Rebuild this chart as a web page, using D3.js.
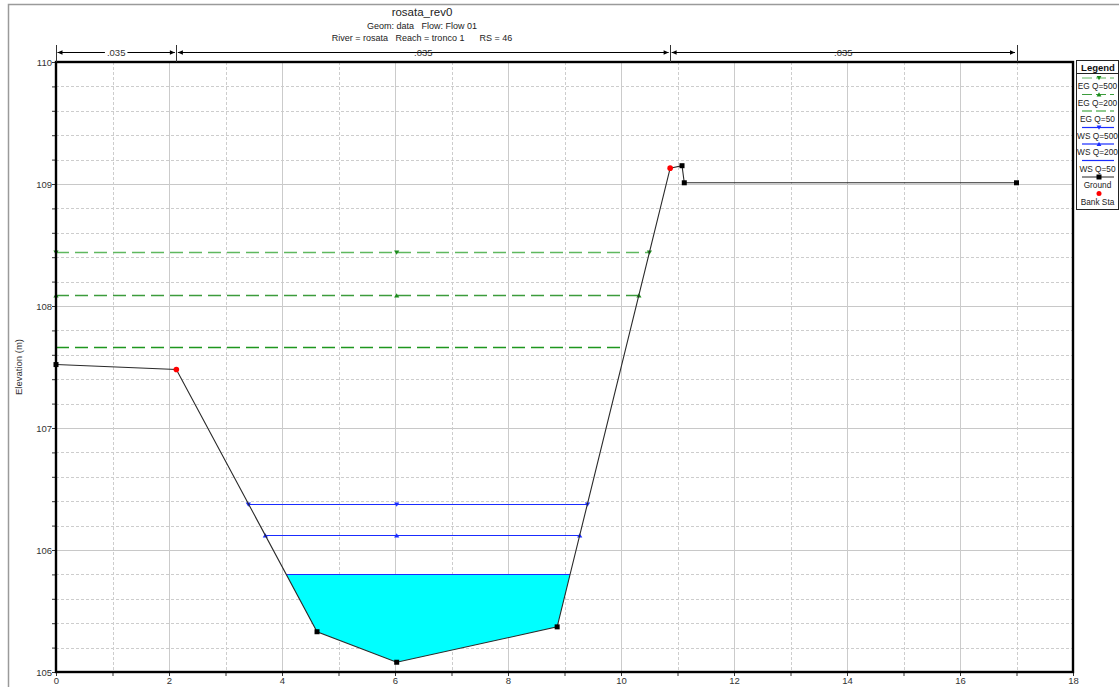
<!DOCTYPE html>
<html>
<head>
<meta charset="utf-8">
<script src="https://cdn.jsdelivr.net/npm/d3@7"></script>
<style>
  html, body { margin: 0; padding: 0; background: #fff; }
  svg text { font-family: Arial, "Liberation Sans", sans-serif; }
</style>
</head>
<body>
<svg id="chart" width="1119" height="687"></svg>
<script>
// Cross section geometry (station, elevation)
const groundSta  = [0, 2.13, 4.62, 6.03, 8.87, 10.87, 11.08, 11.12, 17.0];
const groundElev = [107.52, 107.48, 105.33, 105.08, 105.37, 109.13, 109.15, 109.01, 109.01];
const bankSta = [2.13, 10.87];

// Manning's n zones
const nBreaks = [0, 2.13, 10.87, 17.0];
const nValues = [".035", ".035", ".035"];

// Computed profiles
const profileNames = ["EG Q=500", "EG Q=200", "EG Q=50", "WS Q=500", "WS Q=200", "WS Q=50"];
const profileElev  = [108.44, 108.09, 107.66, 106.38, 106.12, 105.80];

const xTicks = [0, 2, 4, 6, 8, 10, 12, 14, 16, 18];
const yTicks = [105, 106, 107, 108, 109, 110];

const svg = d3.select("#chart");
const x = d3.scaleLinear().domain([0, 18]).range([56, 1073]);
const y = d3.scaleLinear().domain([105, 110]).range([672, 62]);

const styles = {
  "EG Q=500": {color: "#5fb85f", dash: "13,6", marker: "down", width: 1.6},
  "EG Q=200": {color: "#3c9c3c", dash: "13,6", marker: "up", width: 1.4},
  "EG Q=50":  {color: "#1e961e", dash: "13,6", marker: null, width: 1.4},
  "WS Q=500": {color: "#1a2cff", dash: null, marker: "down", width: 1.2},
  "WS Q=200": {color: "#1a2cff", dash: null, marker: "up", width: 1.2},
  "WS Q=50":  {color: "#1a2cff", dash: null, marker: null, width: 1.2}
};

// outer frame
svg.append("path").attr("d", "M8.5,687 V4.5 H1119").attr("fill", "none")
  .attr("stroke", "#9a9a9a").attr("stroke-width", 1.5);

// grid
const grid = svg.append("g");
d3.range(105.2, 110, 0.2).forEach(v => {
  const major = Math.abs(v - Math.round(v)) < 1e-6;
  grid.append("line").attr("x1", x(0)).attr("x2", x(18))
    .attr("y1", Math.round(y(v)) + 0.5).attr("y2", Math.round(y(v)) + 0.5)
    .attr("stroke", major ? "#c8c8c8" : "#cdcdcd")
    .attr("stroke-dasharray", major ? null : "3,2");
});
d3.range(1, 18, 1).forEach(v => {
  const major = v % 2 === 0;
  grid.append("line").attr("y1", y(110)).attr("y2", y(105))
    .attr("x1", Math.round(x(v)) + 0.5).attr("x2", Math.round(x(v)) + 0.5)
    .attr("stroke", major ? "#cbcbcb" : "#cdcdcd")
    .attr("stroke-dasharray", major ? null : "3,2");
});

// ground as point list
const ground = groundSta.map((s, i) => ({s, e: groundElev[i]}));
const thalweg = ground.reduce((a, b) => (b.e < a.e ? b : a));
const ti = ground.indexOf(thalweg);

// find where a water level meets the ground on each side of the thalweg
function extent(level) {
  let left = {s: ground[0].s}, right = {s: ground[ground.length - 1].s};
  for (let i = ti; i > 0; i--) {
    const a = ground[i], b = ground[i - 1];
    if (b.e >= level) { left = {s: a.s + (level - a.e) / (b.e - a.e) * (b.s - a.s), idx: i}; break; }
  }
  for (let i = ti; i < ground.length - 1; i++) {
    const a = ground[i], b = ground[i + 1];
    if (b.e >= level) { right = {s: a.s + (level - a.e) / (b.e - a.e) * (b.s - a.s), idx: i}; break; }
  }
  return {left, right};
}

// water fill for the lowest water surface
const wsLow = profileElev[5];
const ex = extent(wsLow);
const poly = [[ex.left.s, wsLow]];
for (let i = ex.left.idx; i <= ex.right.idx; i++) poly.push([ground[i].s, ground[i].e]);
poly.push([ex.right.s, wsLow]);
svg.append("path")
  .attr("d", d3.line().x(d => x(d[0])).y(d => y(d[1]))(poly) + "Z")
  .attr("fill", "#00ffff");

function markerPath(type, size) {
  const h = size;
  if (type === "down") return `M${-h},${-h * 0.8} L${h},${-h * 0.8} L0,${h * 0.9} Z`;
  return `M${-h},${h * 0.8} L${h},${h * 0.8} L0,${-h * 0.9} Z`;
}

// profile lines
profileNames.forEach((name, i) => {
  const lv = profileElev[i];
  const st = styles[name];
  const e = extent(lv);
  const yy = Math.round(y(lv)) + 0.5;
  svg.append("line").attr("x1", x(e.left.s)).attr("x2", x(e.right.s))
    .attr("y1", yy).attr("y2", yy)
    .attr("stroke", st.color).attr("stroke-width", st.width)
    .attr("stroke-dasharray", st.dash);
  if (st.marker) {
    [e.left.s, thalweg.s, e.right.s].forEach(s => {
      svg.append("path").attr("d", markerPath(st.marker, 2.6))
        .attr("transform", `translate(${x(s)},${yy})`)
        .attr("fill", st.dash ? "#1a8c1a" : "#1a2cff");
    });
  }
});

// ground line
svg.append("path")
  .attr("d", d3.line().x(d => x(d.s)).y(d => y(d.e))(ground))
  .attr("fill", "none").attr("stroke", "#2a2a2a").attr("stroke-width", 1.1);
ground.forEach(p => {
  if (bankSta.includes(p.s)) return;
  svg.append("rect").attr("x", x(p.s) - 2.5).attr("y", y(p.e) - 2.5)
    .attr("width", 5).attr("height", 5).attr("fill", "#000");
});
bankSta.forEach(s => {
  const p = ground.find(g => g.s === s);
  svg.append("circle").attr("cx", x(p.s)).attr("cy", y(p.e)).attr("r", 2.8).attr("fill", "#ff0000");
});

// axes
const yAxis = d3.axisLeft(y).tickValues(d3.range(105, 110.01, 0.2)).tickSize(4)
  .tickFormat(d => (Math.abs(d - Math.round(d)) < 1e-6 && yTicks.includes(Math.round(d))) ? d3.format("d")(Math.round(d)) : "");
const gy = svg.append("g").attr("transform", `translate(${x(0)},0)`).call(yAxis);
const xAxis = d3.axisBottom(x).tickValues(d3.range(0, 18.01, 1)).tickSize(4)
  .tickFormat(d => xTicks.includes(d) ? d : "");
const gx = svg.append("g").attr("transform", `translate(0,${y(105)})`).call(xAxis);
[gx, gy].forEach(g => {
  g.select(".domain").remove();
  g.selectAll("line").attr("stroke", "#333");
  g.selectAll("text").attr("font-size", 9.5).attr("fill", "#333").attr("font-family", "Arial, 'Liberation Sans', sans-serif");
});
gx.selectAll("text").attr("dy", "0.9em").attr("y", 3);
gy.selectAll("text").attr("x", -4);

// plot frame
svg.append("rect").attr("x", x(0)).attr("y", y(110))
  .attr("width", x(18) - x(0)).attr("height", y(105) - y(110))
  .attr("fill", "none").attr("stroke", "#000").attr("stroke-width", 2.4);

svg.append("text").attr("transform", `translate(22,${(y(105) + y(110)) / 2}) rotate(-90)`)
  .attr("text-anchor", "middle").attr("font-size", 9.5).attr("fill", "#333").text("Elevation (m)");

// Manning's n bar
const barY = 52.5;
const nb = svg.append("g");
nBreaks.forEach(s => {
  nb.append("line").attr("x1", Math.round(x(s)) + 0.5).attr("x2", Math.round(x(s)) + 0.5)
    .attr("y1", 45).attr("y2", y(110)).attr("stroke", "#333").attr("stroke-width", 1);
});
nValues.forEach((v, i) => {
  const a = x(nBreaks[i]) + 1.5, b = x(nBreaks[i + 1]) - 1.5;
  nb.append("line").attr("x1", a).attr("x2", b).attr("y1", barY).attr("y2", barY).attr("stroke", "#000");
  nb.append("path").attr("d", `M${a},${barY} l5,-2.2 v4.4 Z`).attr("fill", "#000");
  nb.append("path").attr("d", `M${b},${barY} l-5,-2.2 v4.4 Z`).attr("fill", "#000");
  const t = nb.append("text").attr("x", (a + b) / 2).attr("y", barY + 3.3)
    .attr("text-anchor", "middle").attr("font-size", 9.5).attr("fill", "#333").text(v);
  const bb = t.node().getBBox();
  nb.insert("rect", "text").attr("x", bb.x - 2).attr("y", bb.y).attr("width", bb.width + 4)
    .attr("height", bb.height).attr("fill", "#fff");
});
nb.selectAll("text").raise();

// titles
const cx = 422;
svg.append("text").attr("x", cx).attr("y", 16).attr("text-anchor", "middle")
  .attr("font-size", 11.5).attr("fill", "#222").text("rosata_rev0");
svg.append("text").attr("x", cx).attr("y", 29).attr("text-anchor", "middle")
  .attr("font-size", 9).attr("fill", "#222").attr("xml:space", "preserve")
  .text("Geom: data   Flow: Flow 01");
svg.append("text").attr("x", cx).attr("y", 41).attr("text-anchor", "middle")
  .attr("font-size", 9).attr("fill", "#222").attr("xml:space", "preserve")
  .text("River = rosata   Reach = tronco 1      RS = 46");

// legend
const lg = svg.append("g");
const lx0 = 1076, lx1 = 1118, lmid = (lx0 + lx1) / 2;
lg.append("rect").attr("x", lx0 + 0.5).attr("y", 60.5).attr("width", lx1 - lx0).attr("height", 149)
  .attr("fill", "#fff").attr("stroke", "#222").attr("stroke-width", 1);
lg.append("text").attr("x", lmid + 1).attr("y", 70.5).attr("text-anchor", "middle")
  .attr("font-size", 9.5).attr("font-weight", "bold").attr("fill", "#111").text("Legend");
lg.append("line").attr("x1", lx0).attr("x2", lx1).attr("y1", 73.5).attr("y2", 73.5).attr("stroke", "#222");
const legendItems = profileNames.concat(["Ground", "Bank Sta"]);
legendItems.forEach((name, i) => {
  const sy = 78 + i * 16.5;
  if (styles[name]) {
    const st = styles[name];
    lg.append("line").attr("x1", lx0 + 6).attr("x2", lx1 - 4).attr("y1", sy).attr("y2", sy)
      .attr("stroke", st.color).attr("stroke-width", 1.2)
      .attr("stroke-dasharray", st.dash ? "10,4" : null);
    if (st.marker) lg.append("path").attr("d", markerPath(st.marker, 2.4))
      .attr("transform", `translate(${lmid + 2},${sy})`).attr("fill", st.dash ? "#1a8c1a" : "#1a2cff");
  } else if (name === "Ground") {
    lg.append("line").attr("x1", lx0 + 6).attr("x2", lx1 - 4).attr("y1", sy).attr("y2", sy).attr("stroke", "#222");
    lg.append("rect").attr("x", lmid - 0.5).attr("y", sy - 2.5).attr("width", 5).attr("height", 5).attr("fill", "#000");
  } else {
    lg.append("circle").attr("cx", lmid + 2).attr("cy", sy).attr("r", 2.5).attr("fill", "#ff0000");
  }
  lg.append("text").attr("x", lmid + 0.5).attr("y", sy + 11).attr("text-anchor", "middle")
    .attr("font-size", 8.3).attr("fill", "#222").text(name);
});
</script>
</body>
</html>
